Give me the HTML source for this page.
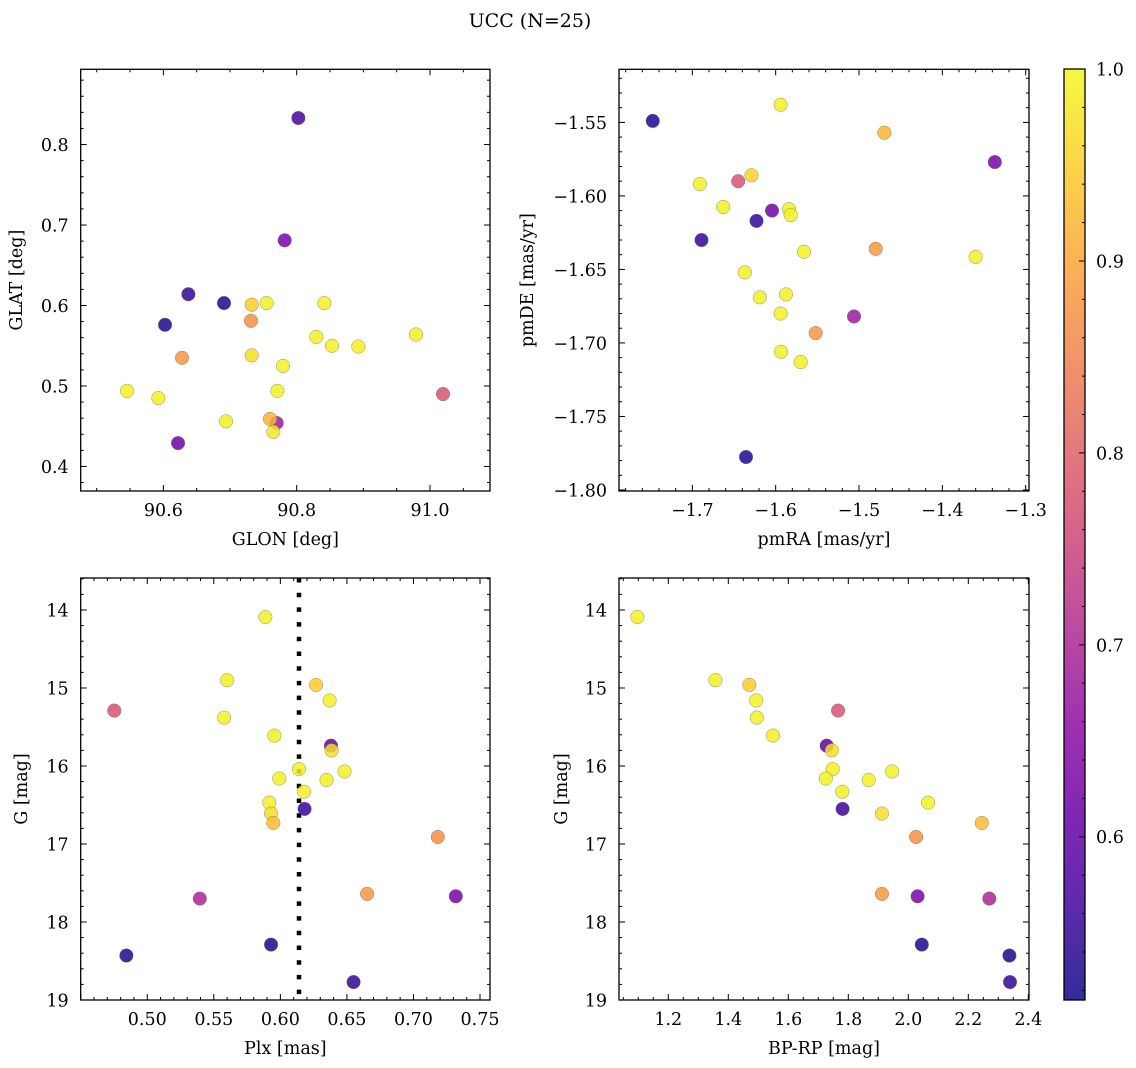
<!DOCTYPE html>
<html><head><meta charset="utf-8"><style>
html,body{margin:0;padding:0;background:#fff}
svg{display:block;font-family:"DejaVu Serif","Liberation Serif",serif}
</style></head><body>
<svg id="fig" width="1136" height="1068" viewBox="0 0 1136 1068" xmlns="http://www.w3.org/2000/svg">
<text x="530" y="27" text-anchor="middle" font-size="19">UCC (N=25)</text>
</svg>
<script>
// ---- data ----
const tlGlon=[90.8025,90.782,90.6375,90.691,90.6025,90.7325,90.755,90.8415,90.7315,90.628,90.7325,90.8295,90.853,90.8925,90.979,90.7795,91.0195,90.5455,90.5925,90.771,90.694,90.770,90.760,90.765,90.622];
const tlGlat=[0.833,0.681,0.614,0.603,0.576,0.601,0.603,0.603,0.581,0.535,0.538,0.561,0.550,0.549,0.564,0.525,0.490,0.494,0.485,0.494,0.456,0.454,0.459,0.443,0.429];
const tlProb=[0.57,0.63,0.55,0.53,0.53,0.95,0.99,0.99,0.87,0.88,0.97,0.99,0.99,0.99,0.99,0.99,0.78,0.99,0.99,0.99,0.99,0.68,0.92,0.98,0.62];
const trPmra=[-1.7475,-1.594,-1.4696,-1.337,-1.691,-1.645,-1.629,-1.663,-1.6044,-1.584,-1.582,-1.623,-1.689,-1.566,-1.480,-1.360,-1.637,-1.619,-1.5876,-1.594,-1.506,-1.552,-1.5936,-1.570,-1.6356];
const trPmde=[-1.549,-1.538,-1.557,-1.577,-1.592,-1.590,-1.586,-1.6075,-1.610,-1.609,-1.613,-1.617,-1.630,-1.638,-1.636,-1.6415,-1.652,-1.669,-1.667,-1.680,-1.682,-1.6933,-1.706,-1.713,-1.7776];
const trProb=[0.53,0.99,0.92,0.63,0.99,0.78,0.96,0.99,0.62,0.99,0.99,0.55,0.55,0.99,0.88,0.99,0.99,0.99,0.99,0.99,0.68,0.88,0.99,0.99,0.53];
const plx=[0.5887,0.560,0.6268,0.637,0.4752,0.5578,0.5955,0.638,0.6385,0.614,0.6482,0.5992,0.6347,0.6178,0.5917,0.6182,0.593,0.5947,0.7183,0.6652,0.7318,0.5395,0.593,0.4843,0.655];
const bprp=[1.097,1.357,1.470,1.493,1.766,1.495,1.549,1.728,1.745,1.748,1.946,1.725,1.868,1.780,2.066,1.781,1.912,2.245,2.026,1.912,2.031,2.270,2.045,2.337,2.339];
const gmag=[14.09,14.90,14.96,15.16,15.29,15.38,15.61,15.74,15.80,16.04,16.07,16.16,16.18,16.33,16.47,16.55,16.61,16.73,16.91,17.64,17.67,17.70,18.29,18.43,18.77];
const botProb=[0.99,0.99,0.95,0.99,0.78,0.99,0.99,0.60,0.97,0.99,0.99,0.99,0.99,0.99,0.99,0.56,0.97,0.93,0.87,0.88,0.63,0.70,0.53,0.53,0.55];
const plxMedian=0.614;
const tlXTicks=["90.6","90.8","91.0"];
const tlYTicks=["0.4","0.5","0.6","0.7","0.8"];
const trXTicks=["−1.7","−1.6","−1.5","−1.4","−1.3"];
const trYTicks=["−1.80","−1.75","−1.70","−1.65","−1.60","−1.55"];
const blXTicks=["0.50","0.55","0.60","0.65","0.70","0.75"];
const gTicks=["14","15","16","17","18","19"];
const brXTicks=["1.2","1.4","1.6","1.8","2.0","2.2","2.4"];
const cbTicks=["0.6","0.7","0.8","0.9","1.0"];
const vmin=0.515, vmax=1.0;

const NS="http://www.w3.org/2000/svg";
const svg=document.getElementById('fig');
function mk(tag,attrs,parent){const e=document.createElementNS(NS,tag);for(const k in attrs)e.setAttribute(k,attrs[k]);(parent||svg).appendChild(e);return e;}
const stops=[[13,8,135],[65,4,157],[106,0,168],[143,13,164],[177,42,144],[204,71,120],[225,100,98],[242,132,75],[252,166,54],[252,206,37],[240,249,33]];
function plasma(t){t=Math.max(0,Math.min(1,t));const f=t*10,i=Math.min(9,Math.floor(f)),r=f-i;const a=stops[i],b=stops[i+1];return 'rgb('+[0,1,2].map(k=>Math.round(a[k]+(b[k]-a[k])*r)).join(',')+')';}
function col(p){return plasma((p-vmin)/(vmax-vmin));}
function num(s){return parseFloat(s.replace('−','-'));}
const FS=17.5;

function panel(name,L,T,R,B,x0,x1,y0,y1,invertY,xMajor,xMinor,yMajor,yMinor,xTicks,yTicks,xLabel,yLabel,yLabelX,xs,ys,ps,extra){
  const g=mk('g',{});
  
  
  const sx=v=>L+(v-x0)/(x1-x0)*(R-L);
  const sy=v=>invertY?T+(v-y0)/(y1-y0)*(B-T):B-(v-y0)/(y1-y0)*(B-T);
  const eps=1e-9;
  for(let v=Math.ceil(x0/xMinor-eps)*xMinor;v<=x1+eps;v+=xMinor){const x=sx(v);const maj=Math.abs(v/xMajor-Math.round(v/xMajor))<1e-6;const len=maj?6:3;
    const t1=mk('line',{x1:x,y1:B,x2:x,y2:B-len,stroke:'#000','stroke-width':1},g);
    const t2=mk('line',{x1:x,y1:T,x2:x,y2:T+len,stroke:'#000','stroke-width':1},g);}
  for(let v=Math.ceil(Math.min(y0,y1)/yMinor-eps)*yMinor;v<=Math.max(y0,y1)+eps;v+=yMinor){const y=sy(v);const maj=Math.abs(v/yMajor-Math.round(v/yMajor))<1e-6;const len=maj?6:3;
    const t1=mk('line',{x1:L,y1:y,x2:L+len,y2:y,stroke:'#000','stroke-width':1},g);
    const t2=mk('line',{x1:R,y1:y,x2:R-len,y2:y,stroke:'#000','stroke-width':1},g);}
  xTicks.forEach(s=>{const t=mk('text',{x:sx(num(s)),y:B+25,'text-anchor':'middle','font-size':FS},g);t.textContent=s;});
  yTicks.forEach(s=>{const t=mk('text',{x:L-12,y:sy(num(s))+6.4,'text-anchor':'end','font-size':FS},g);t.textContent=s;});
  const xl=mk('text',{x:(L+R)/2,y:B+54,'text-anchor':'middle','font-size':17.5},g);xl.textContent=xLabel;
  
  
  const yl=mk('text',{x:yLabelX,y:(T+B)/2,'text-anchor':'middle','font-size':17.5,transform:'rotate(-90 '+yLabelX+' '+(T+B)/2+')'},g);yl.textContent=yLabel;
  
  
  if(extra){const ln=mk('line',{x1:sx(extra),y1:T,x2:sx(extra),y2:B,stroke:'#000','stroke-width':4.5,'stroke-dasharray':'4.5 10.2'},g);
    
    }
  for(let i=0;i<xs.length;i++){
    const c=mk('circle',{cx:sx(xs[i]),cy:sy(ys[i]),r:6.8,fill:col(ps[i]),'fill-opacity':0.85,stroke:'#666','stroke-opacity':0.7,'stroke-width':0.5},g);
    
    
  }
  const fr=mk('rect',{x:L,y:T,width:R-L,height:B-T,fill:'none',stroke:'#000','stroke-width':1.3},g);
  
  
}
panel('glon-glat-panel',80.7,69.3,490,491,90.476,91.09,0.3695,0.8935,false,0.2,0.05,0.1,0.02,tlXTicks,tlYTicks,'GLON [deg]','GLAT [deg]',22,tlGlon,tlGlat,tlProb,null);
panel('pm-panel',619,69.3,1029,491,-1.788,-1.296,-1.8007,-1.5139,false,0.1,0.02,0.05,0.01,trXTicks,trYTicks,'pmRA [mas/yr]','pmDE [mas/yr]',533,trPmra,trPmde,trProb,null);
panel('plx-g-panel',80.7,578,490,1000,0.45,0.7575,13.59,19.0,true,0.05,0.01,1,0.2,blXTicks,gTicks,'Plx [mas]','G [mag]',27,plx,gmag,botProb,plxMedian);
panel('cmd-panel',619,578,1029,1000,1.0357,2.4023,13.59,19.0,true,0.2,0.05,1,0.2,brXTicks,gTicks,'BP-RP [mag]','G [mag]',567,bprp,gmag,botProb,null);

const cb=mk('g',{});


const cL=1064,cR=1085,cT=69,cB=1000;
const defs=mk('defs',{});
const lg=mk('linearGradient',{id:'cbg',x1:0,y1:1,x2:0,y2:0},defs);
for(let i=0;i<=20;i++){mk('stop',{offset:i/20,'stop-color':plasma(i/20),'stop-opacity':0.85},lg);}
const cbr=mk('rect',{x:cL,y:cT,width:cR-cL,height:cB-cT,fill:'url(#cbg)',stroke:'#000','stroke-width':1.3},cb);


const cy=v=>cB-(v-vmin)/(vmax-vmin)*(cB-cT);
for(let v=0.52;v<=1.0001;v+=0.02){const y=cy(v);const maj=Math.abs(v*10-Math.round(v*10))<1e-6;
  const t=mk('line',{x1:cR,y1:y,x2:cR-(maj?6:3),y2:y,stroke:'#000','stroke-width':1},cb);}
cbTicks.forEach(s=>{const t=mk('text',{x:cR+11,y:cy(num(s))+6.4,'font-size':FS},cb);t.textContent=s;});
</script>
</body></html>
